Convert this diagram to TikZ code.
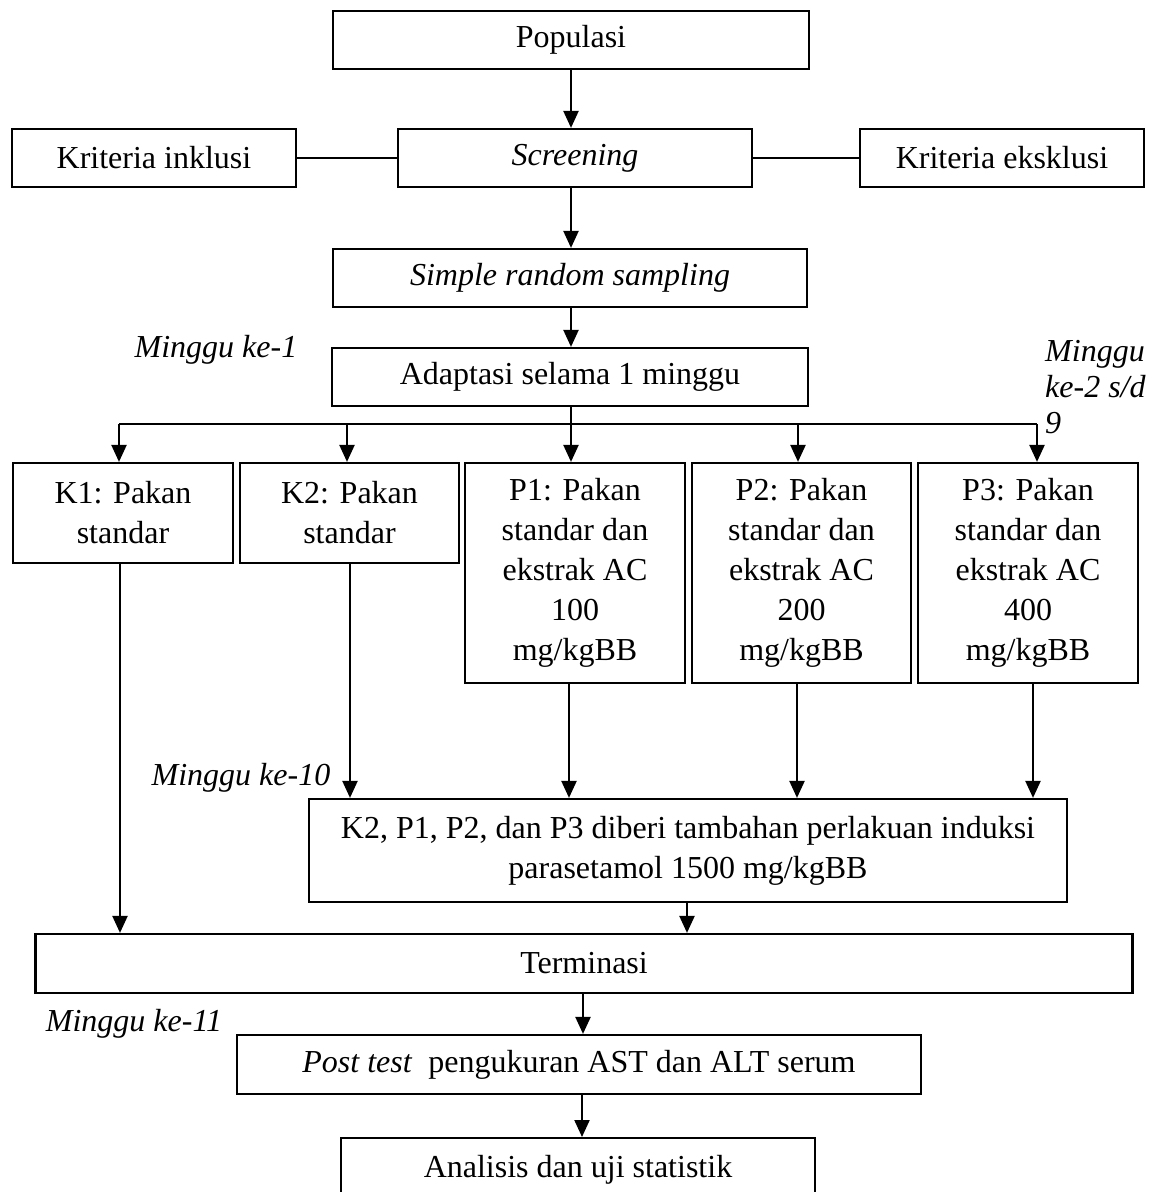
\documentclass[tikz,border=0pt]{standalone}
\usepackage{fontspec}
\setmainfont{Liberation Serif}
\usetikzlibrary{arrows.meta}
\begin{document}
\begin{tikzpicture}[x=1pt,y=-1pt,
  every node/.style={font=\fontsize{32}{40}\selectfont},
  box/.style={draw,line width=2.2pt,inner sep=0pt,align=center},
  lbl/.style={font=\fontsize{32}{36}\selectfont\itshape,inner sep=0pt},
  conn/.style={line width=2.2pt},
  arr/.style={line width=2.2pt,-{Triangle[length=17pt,width=15pt]}}]
\useasboundingbox (0,0) rectangle (1159,1192);
% boxes
\node[box,minimum width=476,minimum height=58] (pop) at (571,40) {Populasi};
\node[box,minimum width=354,minimum height=58] (scr) at (575,158) {\itshape Screening};
\node[box,minimum width=284,minimum height=58] (inc) at (154,158) {Kriteria inklusi};
\node[box,minimum width=284,minimum height=58] (exc) at (1002,158) {Kriteria eksklusi};
\node[box,minimum width=474,minimum height=58] (srs) at (570,278) {\itshape Simple random sampling};
\node[box,minimum width=476,minimum height=58] (ada) at (570,377) {Adaptasi selama 1 minggu};
\node[box,minimum width=220,minimum height=100] (k1) at (123,513) {K1: Pakan\\standar};
\node[box,minimum width=219,minimum height=100] (k2) at (349.5,513) {K2: Pakan\\standar};
\node[box,minimum width=220,minimum height=220] (p1) at (575,573) {P1: Pakan\\standar dan\\ekstrak AC\\100\\mg/kgBB};
\node[box,minimum width=219,minimum height=220] (p2) at (801.5,573) {P2: Pakan\\standar dan\\ekstrak AC\\200\\mg/kgBB};
\node[box,minimum width=220,minimum height=220] (p3) at (1028,573) {P3: Pakan\\standar dan\\ekstrak AC\\400\\mg/kgBB};
\node[box,minimum width=758,minimum height=103] (ind) at (688,850.5) {K2, P1, P2, dan P3 diberi tambahan perlakuan induksi\\parasetamol 1500 mg/kgBB};
\node[box,minimum width=1097,minimum height=59] (ter) at (584,963.5) {Terminasi};
\node[box,minimum width=684,minimum height=59] (post) at (579,1064.5) {\textit{Post test}\ \ pengukuran AST dan ALT serum};
\node[box,minimum width=474,minimum height=62,anchor=north] (ana) at (578,1137) {Analisis dan uji statistik\strut};
% labels
\node[lbl] (m1) at (216,350) {Minggu ke-1};
\node[lbl,align=left,anchor=north west] (m2) at (1045,340) {Minggu\\ke-2 s/d\\9};
\node[lbl] (m10) at (241,778) {Minggu ke-10};
\node[lbl] (m11) at (134,1024) {Minggu ke-11};
% connectors
\draw[arr] (pop.south -| 571,0) -- (scr.north -| 571,0);
\draw[conn] (inc.east) -- (scr.west);
\draw[conn] (scr.east) -- (exc.west);
\draw[arr] (scr.south -| 571,0) -- (srs.north -| 571,0);
\draw[arr] (srs.south -| 571,0) -- (ada.north -| 571,0);
\coordinate (br) at (571,424);
\coordinate (brL) at (119,424);
\coordinate (brR) at (1037,424);
\draw[conn] (ada.south -| br) -- (br);
\draw[conn] (brL) -- (brR);
\draw[arr] (brL) -- (k1.north -| brL);
\draw[arr] (347,424) -- (k2.north -| 347,0);
\draw[arr] (br) -- (p1.north -| br);
\draw[arr] (798,424) -- (p2.north -| 798,0);
\draw[arr] (brR) -- (p3.north -| brR);
\draw[arr] (k1.south -| 120,0) -- (ter.north -| 120,0);
\draw[arr] (k2.south -| 350,0) -- (ind.north -| 350,0);
\draw[arr] (p1.south -| 569,0) -- (ind.north -| 569,0);
\draw[arr] (p2.south -| 797,0) -- (ind.north -| 797,0);
\draw[arr] (p3.south -| 1033,0) -- (ind.north -| 1033,0);
\draw[arr] (ind.south -| 687,0) -- (ter.north -| 687,0);
\draw[arr] (ter.south -| 583,0) -- (post.north -| 583,0);
\draw[arr] (post.south -| 582,0) -- (ana.north -| 582,0);
\end{tikzpicture}
\end{document}
